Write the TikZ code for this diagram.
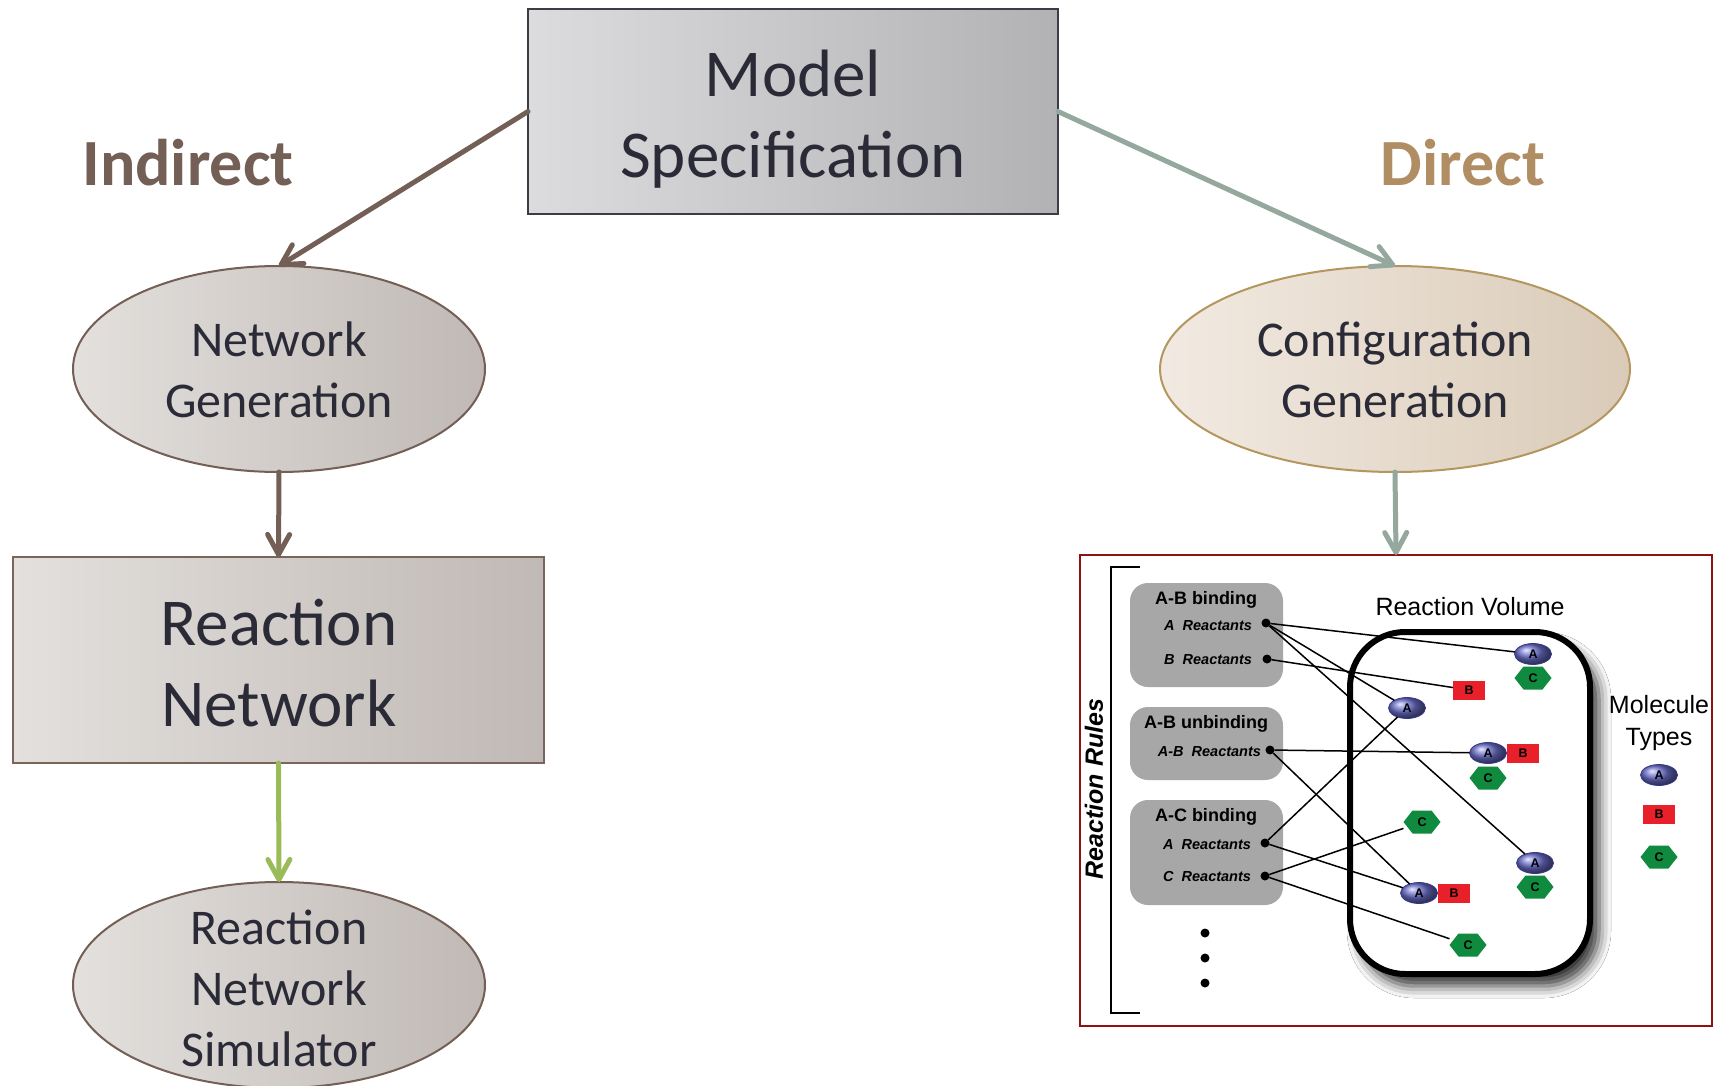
\documentclass[tikz,border=0pt]{standalone}
\usepackage{fontspec}
\setmainfont{Carlito}
\newfontfamily\panelfont{Liberation Sans}
\usetikzlibrary{arrows.meta,shapes.geometric,shadows.blur}

\definecolor{inkdark}{HTML}{2B2B38}
\definecolor{indirectbrown}{HTML}{735F55}
\definecolor{directtan}{HTML}{B08D62}
\definecolor{sagegray}{HTML}{94A89E}
\definecolor{leafgreen}{HTML}{9BBB59}
\definecolor{msleft}{HTML}{DCDCDE}
\definecolor{msright}{HTML}{B2B2B5}
\definecolor{msedge}{HTML}{3C3C46}
\definecolor{greyleft}{HTML}{E3E0DD}
\definecolor{greyright}{HTML}{C0B9B5}
\definecolor{rnedge}{HTML}{7A655C}
\definecolor{tanleft}{HTML}{F2EAE2}
\definecolor{tanright}{HTML}{DACBB8}
\definecolor{tanedge}{HTML}{B4965F}
\definecolor{panelred}{HTML}{8E1212}
\definecolor{rulegray}{HTML}{A7A7A7}
\definecolor{molblue}{HTML}{6B6FCB}
\definecolor{molblueedge}{HTML}{34388A}
\definecolor{molred}{HTML}{E8202A}
\definecolor{molgreen}{HTML}{0F8A3E}

\begin{document}
\begin{tikzpicture}[x=1pt,y=-1pt,
  every node/.style={inner sep=0pt, outer sep=0pt},
  flowbox/.style={rectangle, line width=2pt},
  flowoval/.style={ellipse, line width=2pt},
  bigtext/.style={text=inkdark, align=center, font=\fontsize{67}{81}\selectfont},
  ovaltext/.style={text=inkdark, align=center, font=\fontsize{50}{61}\selectfont},
  pathlabel/.style={font=\bfseries\fontsize{66}{70}\selectfont},
  flowarrow/.style={line width=5pt, line cap=round,
    -{Straight Barb[round, length=20pt, width=22pt]}},
  rulebox/.style={rectangle, rounded corners=18pt, fill=rulegray, minimum width=153pt},
  ruletitle/.style={font=\panelfont\bfseries\fontsize{18}{20}\selectfont},
  reactant/.style={anchor=east, font=\panelfont\bfseries\itshape\fontsize{14.5}{16}\selectfont},
  port/.style={circle, fill=black, minimum size=9pt},
  wire/.style={line width=1.5pt, black},
  moltext/.style={text=black, font=\panelfont\bfseries\fontsize{12.5}{13}\selectfont},
  molA/.style={moltext, ellipse, minimum width=37pt, minimum height=21pt,
    ball color=molblue, draw=molblueedge, line width=0.8pt},
  molB/.style={moltext, rectangle, minimum width=32pt, minimum height=19pt, fill=molred},
  molC/.style={moltext, rectangle, minimum width=37pt, minimum height=23pt,
    path picture={\fill[molgreen]
      (path picture bounding box.west)
      -- ([xshift=9pt]path picture bounding box.north west)
      -- ([xshift=-9pt]path picture bounding box.north east)
      -- (path picture bounding box.east)
      -- ([xshift=-9pt]path picture bounding box.south east)
      -- ([xshift=9pt]path picture bounding box.south west) -- cycle;}},
  paneltext/.style={font=\panelfont\fontsize{25}{32}\selectfont, align=center}
]
\useasboundingbox (0,0) rectangle (1724,1086);
\fill[white] (0,0) rectangle (1724,1086);

% ---- flow chart ----
\node[flowbox, draw=msedge, left color=msleft, right color=msright,
  minimum width=530pt, minimum height=205pt] (ms) at (793,111.5) {};
\node[bigtext] (mstext) at (793,119) {Model\\Specification};

\node[pathlabel, text=indirectbrown] (indirect) at (188,163) {Indirect};
\node[pathlabel, text=directtan] (direct) at (1463,163) {Direct};

\node[flowoval, draw=indirectbrown, left color=greyleft, right color=greyright,
  minimum width=412pt, minimum height=206pt] (ng) at (279,369) {};
\node[ovaltext] (ngtext) at (279,370) {Network\\Generation};

\node[flowoval, draw=tanedge, left color=tanleft, right color=tanright,
  minimum width=470pt, minimum height=206pt] (cg) at (1395,369) {};
\node[ovaltext] (cgtext) at (1395,370) {Configuration\\Generation};

\node[flowbox, draw=rnedge, left color=greyleft, right color=greyright,
  minimum width=531pt, minimum height=206pt] (rn) at (278.5,660) {};
\node[bigtext] (rntext) at (279,663) {Reaction\\Network};

\node[flowoval, draw=indirectbrown, left color=greyleft, right color=greyright,
  minimum width=412pt, minimum height=206pt] (sim) at (279,985) {};
\node[ovaltext] (simtext) at (279,988) {Reaction\\Network\\Simulator};

% ---- particle-based panel ----
\node[rectangle, draw=panelred, line width=2.5pt, fill=white,
  minimum width=632pt, minimum height=471pt] (panel) at (1396,790.5) {};

\draw[flowarrow, indirectbrown] (ms.west) -- (ng.north);
\draw[flowarrow, sagegray] (ms.east) -- (cg.north);
\draw[flowarrow, indirectbrown] (ng.south) -- (rn.north);
\draw[flowarrow, leafgreen] (rn.south) -- (sim.north);
\draw[flowarrow, sagegray] (cg.south) -- (panel.north);

% bracket and rule list
\coordinate (brtop) at (1140,567);
\coordinate (brbot) at (1140,1013);
\draw[line width=1.5pt] (brtop) -- (1111,567) -- (1111,1013) -- (brbot);
\node[rotate=90, font=\panelfont\bfseries\itshape\fontsize{25}{28}\selectfont]
  (rulelabel) at (1094,789) {Reaction Rules};

\node[rulebox, minimum height=104pt] (r1) at (1206.5,635) {};
\node[rulebox, minimum height=73pt] (r2) at (1206.5,743.5) {};
\node[rulebox, minimum height=105pt] (r3) at (1206.5,852.5) {};

\node[ruletitle] (t1) at (1206,600) {A-B binding};
\node[reactant] (l1) at (1252,626) {A\ \ Reactants};
\node[reactant] (l2) at (1252,660) {B\ \ Reactants};
\node[ruletitle] (t2) at (1206,724) {A-B unbinding};
\node[reactant] (l3) at (1261,752) {A-B\ \ Reactants};
\node[ruletitle] (t3) at (1206,817) {A-C binding};
\node[reactant] (l4) at (1251,845) {A\ \ Reactants};
\node[reactant] (l5) at (1251,877) {C\ \ Reactants};

\node[port] (d1) at (1266,623) {};
\node[port] (d2) at (1267,659) {};
\node[port] (d3) at (1270,750) {};
\node[port] (d4) at (1265,843) {};
\node[port] (d5) at (1265,876) {};

\node[circle, fill=black, minimum size=9pt] (e1) at (1205,933) {};
\node[circle, fill=black, minimum size=9pt] (e2) at (1205,958) {};
\node[circle, fill=black, minimum size=9pt] (e3) at (1205,983) {};

% reaction volume
\node[rectangle, draw=black, line width=6pt, rounded corners=55pt, fill=white,
  minimum width=240pt, minimum height=342pt,
  blur shadow={shadow xshift=9pt, shadow yshift=-12pt, shadow blur radius=12pt, shadow opacity=80}]
  (vol) at (1470,803) {};
\node[paneltext] (voltext) at (1470,607) {Reaction Volume};

% molecules inside the volume
\node[molA] (A1) at (1533,654) {A};
\node[molC] (C1) at (1533,678) {C};
\node[molB] (B1) at (1469,690) {B};
\node[molA] (A2) at (1407,708) {A};
\node[molA] (A3) at (1488,753) {A};
\node[molB] (B2) at (1523,753) {B};
\node[molC] (C2) at (1488,778) {C};
\node[molC] (C3) at (1422,822) {C};
\node[molA] (A4) at (1535,863) {A};
\node[molC] (C4) at (1535,887) {C};
\node[molA] (A5) at (1419,893) {A};
\node[molB] (B3) at (1454,893) {B};
\node[molC] (C5) at (1468,945) {C};

% rule-to-molecule links
\draw[wire] (d1) -- (A1);
\draw[wire] (d1) -- (A2);
\draw[wire] (d1) -- (A4);
\draw[wire] (d2) -- (B1);
\draw[wire] (d3) -- (A3);
\draw[wire] (d3) -- (A5);
\draw[wire] (d4) -- (A2);
\draw[wire] (d4) -- (A5);
\draw[wire] (d5) -- (C3);
\draw[wire] (d5) -- (C5);

% legend
\node[paneltext] (legendtitle) at (1659,723) {Molecule\\Types};
\node[molA] (LA) at (1659,775) {A};
\node[molB] (LB) at (1659,814) {B};
\node[molC] (LC) at (1659,857) {C};
\end{tikzpicture}
\end{document}
